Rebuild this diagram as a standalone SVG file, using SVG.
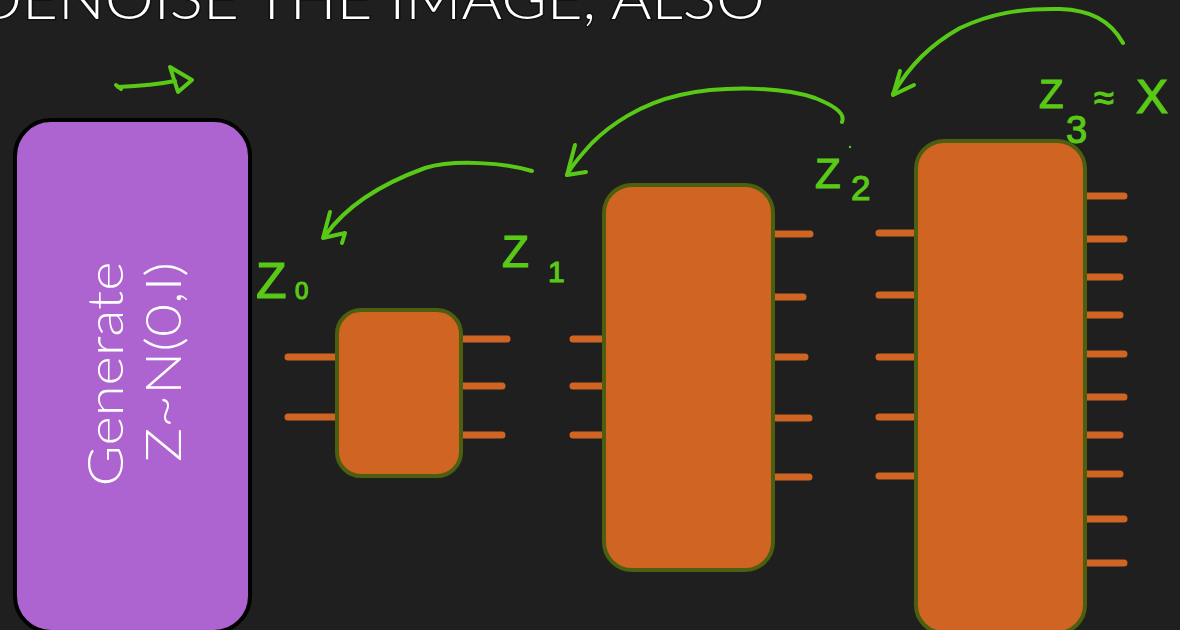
<svg xmlns="http://www.w3.org/2000/svg" width="1180" height="630" viewBox="0 0 1180 630">
<style>
.title{font-family:Lato,"Liberation Sans",sans-serif;font-weight:300;font-size:58px;fill:#fff;stroke:#000;stroke-opacity:.45;stroke-width:3px;paint-order:stroke}
.gen{font-family:Lato,"Liberation Sans",sans-serif;font-weight:300;font-size:50px;fill:#fff}
.block{fill:#cf6423;stroke:#4b5f0e;stroke-width:4}
.pin{stroke:#cf6423;stroke-width:7;stroke-linecap:round;fill:none}
.ink{stroke:#58c916;stroke-width:4;stroke-linecap:round;stroke-linejoin:round;fill:none}
.lbl{font-family:"Liberation Sans",sans-serif;fill:#58c916;stroke:#58c916;stroke-width:1.2}
</style>
<rect x="0" y="0" width="1180" height="630" fill="#1f1f1f"/>
<text class="title" x="-25" y="19" textLength="790" lengthAdjust="spacingAndGlyphs">DENOISE THE IMAGE, ALSO</text>

<g id="generate">
<rect x="15" y="120" width="235" height="512" rx="36" fill="#ad64d0" stroke="#000" stroke-width="4"/>
<text class="gen" transform="translate(123,374) rotate(-90)" text-anchor="middle" textLength="225" lengthAdjust="spacingAndGlyphs">Generate</text>
<text class="gen" transform="translate(181,362) rotate(-90)" text-anchor="middle" textLength="200" lengthAdjust="spacingAndGlyphs">Z~N(0,I)</text>
</g>

<g id="net0">
<path class="pin" d="M288,357H337M288,417H337M461,339H507M461,386H502M461,435H502"/>
<rect class="block" x="337" y="310" width="124" height="166" rx="24"/>
</g>

<g id="net1">
<path class="pin" d="M573,339H604M573,386H604M573,435H604M773,234H810M773,297H803M773,357H805M773,418H809M773,477H809"/>
<rect class="block" x="604" y="185" width="169" height="385" rx="28"/>
</g>

<g id="net2">
<path class="pin" d="M879,233H916M879,295H916M879,357H916M879,417H916M879,476H916M1085,196H1124M1085,239H1124M1085,277H1120M1085,315H1120M1085,354H1124M1085,397H1124M1085,435H1120M1085,474H1120M1085,519H1124M1085,563H1124"/>
<rect class="block" x="916" y="141" width="169" height="492" rx="28"/>
</g>

<g id="connectors">
<path class="ink" d="M116,85 L121,89 M118,87 C140,86 160,84 175,81"/>
<path class="ink" d="M170,67 L192,80 L178,92 Z"/>
<path class="ink" d="M532,171 C505,163 455,159 425,168 C392,180 350,200 325,236"/>
<path class="ink" d="M330,212 L323,238 L345,233 L342,243"/>
<path class="ink" d="M842,122 C846,112 830,104 815,98 C780,86 720,86 680,95 C640,104 610,125 592,143 C581,155 572,165 567,175"/>
<path class="ink" d="M575,145 L567,175 L586,172"/>
<path class="ink" d="M1123,43 C1110,20 1090,10 1060,9 C1020,8 990,14 960,28 C930,45 910,65 893,94"/>
<path class="ink" d="M900,71 L893,95 L914,85"/>
</g>

<g id="labels">
<text class="lbl" x="256" y="298" font-size="50">Z</text>
<text class="lbl" x="295" y="299" font-size="24">0</text>
<text class="lbl" x="502" y="267" font-size="44">Z</text>
<text class="lbl" x="548" y="282" font-size="30">1</text>
<text class="lbl" x="815" y="188" font-size="42">Z</text>
<text class="lbl" x="851" y="200" font-size="35">2</text>
<circle cx="850" cy="147" r="1.2" fill="#58c916"/>
<text class="lbl" x="1039" y="108" font-size="40">Z</text>
<text class="lbl" x="1066" y="143" font-size="38">3</text>
<text class="lbl" x="1094" y="110" font-size="36">≈</text>
<text class="lbl" x="1136" y="113" font-size="48">X</text>
</g>
</svg>
